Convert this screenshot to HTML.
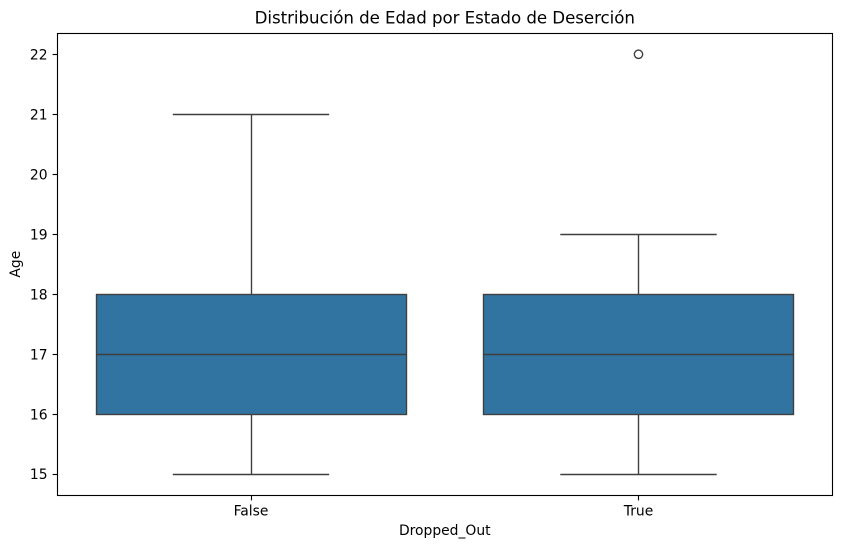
<!DOCTYPE html>
<html lang="es">
<head>
<meta charset="utf-8">
<title>Distribución de Edad por Estado de Deserción</title>
<style>
html,body{margin:0;padding:0;background:#fff;width:842px;height:548px;overflow:hidden}
svg{display:block}
text{font-family:"DejaVu Sans","Liberation Sans",sans-serif;fill:#000}
</style>
</head>
<body>
<svg id="chart" xmlns="http://www.w3.org/2000/svg" width="842" height="548" viewBox="0 0 842 548"></svg>
<script>
const categories = ["False", "True"];
const whiskerLow = [15, 15];
const q1 = [16, 16];
const medians = [17, 17];
const q3 = [18, 18];
const whiskerHigh = [21, 19];
const outliers = [[], [22]];
const yTicks = [15, 16, 17, 18, 19, 20, 21, 22];
const titleText = "Distribución de Edad por Estado de Deserción";
const xLabelText = "Dropped_Out";
const yLabelText = "Age";

const svg = document.getElementById('chart');
const NS = 'http://www.w3.org/2000/svg';
const plot = { left: 57.25, right: 832.25, top: 33.3, bottom: 495 };
const yMin = 14.65, yMax = 22.35;
const snap = v => Math.floor(v) + 0.5;
const xScale = i => plot.left + (i + 0.5) / 2 * (plot.right - plot.left);
const yScale = v => plot.bottom - (v - yMin) / (yMax - yMin) * (plot.bottom - plot.top);
const unitX = (plot.right - plot.left) / 2;
const edge = '#3f3f3f';
const lineW = 1.39;

function add(tag, attrs, parent, text) {
  const el = document.createElementNS(NS, tag);
  for (const k in attrs) el.setAttribute(k, attrs[k]);
  if (text !== undefined) el.textContent = text;
  (parent || svg).appendChild(el);
  return el;
}
function group(parent) {
  return add('g', {}, parent);
}

categories.forEach((cat, i) => {
  const cx = xScale(i);
  const sx = snap(cx);
  const g = group();
  
  

  const wl = add('line', { x1: sx, x2: sx, y1: snap(yScale(q1[i])), y2: snap(yScale(whiskerLow[i])), stroke: edge, 'stroke-width': lineW }, g);
  
  

  const wh = add('line', { x1: sx, x2: sx, y1: snap(yScale(q3[i])), y2: snap(yScale(whiskerHigh[i])), stroke: edge, 'stroke-width': lineW }, g);
  
  

  const cl = add('line', { x1: cx - 0.2 * unitX, x2: cx + 0.2 * unitX, y1: snap(yScale(whiskerLow[i])), y2: snap(yScale(whiskerLow[i])), stroke: edge, 'stroke-width': lineW, 'stroke-linecap': 'square' }, g);
  
  

  const ch = add('line', { x1: cx - 0.2 * unitX, x2: cx + 0.2 * unitX, y1: snap(yScale(whiskerHigh[i])), y2: snap(yScale(whiskerHigh[i])), stroke: edge, 'stroke-width': lineW, 'stroke-linecap': 'square' }, g);
  
  

  const bx0 = snap(cx - 0.4 * unitX), bx1 = snap(cx + 0.4 * unitX);
  const by0 = snap(yScale(q3[i])), by1 = snap(yScale(q1[i]));
  const box = add('rect', { x: bx0, width: bx1 - bx0, y: by0, height: by1 - by0, fill: '#3274a1', stroke: edge, 'stroke-width': lineW }, g);
  
  

  const med = add('line', { x1: bx0, x2: bx1, y1: snap(yScale(medians[i])), y2: snap(yScale(medians[i])), stroke: edge, 'stroke-width': lineW }, g);
  
  

  outliers[i].forEach(v => {
    const o = add('circle', { cx: cx, cy: yScale(v), r: 4.17, fill: 'none', stroke: edge, 'stroke-width': 1.39 }, g);
    
    
  });

  const tick = add('line', { x1: sx, x2: sx, y1: 495.5, y2: 500.4, stroke: '#000', 'stroke-width': 1.11 });
  
  

  const lab = add('text', { x: cx, y: plot.bottom + 20.5, 'text-anchor': 'middle', 'font-size': 13.89 }, svg, cat);
  
  
});

yTicks.forEach(v => {
  const y = yScale(v);
  const tick = add('line', { x1: 52.6, x2: 57.5, y1: snap(y), y2: snap(y), stroke: '#000', 'stroke-width': 1.11 });
  
  

  const lab = add('text', { x: plot.left - 9.7, y: y + 5.2, 'text-anchor': 'end', 'font-size': 13.89 }, svg, String(v));
  
  
});

const frame = add('rect', { x: snap(plot.left), y: snap(plot.top), width: snap(plot.right) - snap(plot.left), height: snap(plot.bottom) - snap(plot.top), fill: 'none', stroke: '#000', 'stroke-width': 1.11 });



const title = add('text', { x: (plot.left + plot.right) / 2, y: 23.5, 'text-anchor': 'middle', 'font-size': 16.67, 'letter-spacing': '-0.05' }, svg, titleText);



const xTitle = add('text', { x: (plot.left + plot.right) / 2, y: 535, 'text-anchor': 'middle', 'font-size': 13.89 }, svg, xLabelText);



const yTitle = add('text', { x: 0, y: 0, 'text-anchor': 'middle', 'font-size': 13.89, transform: 'translate(20,' + (plot.top + plot.bottom) / 2 + ') rotate(-90)' }, svg, yLabelText);


</script>
</body>
</html>
